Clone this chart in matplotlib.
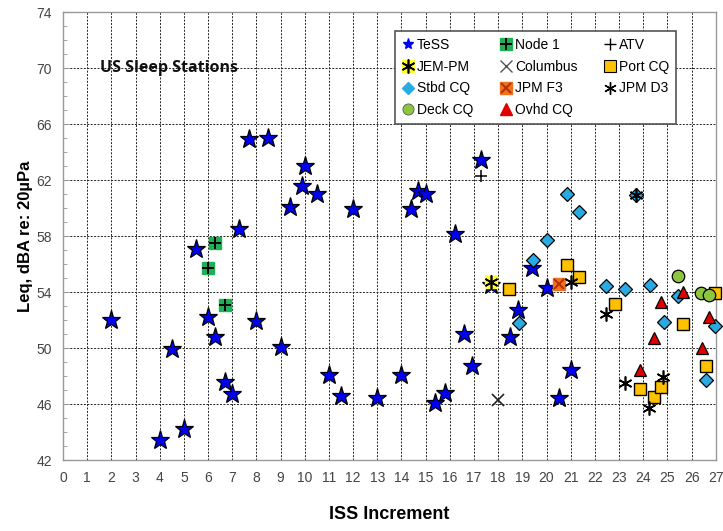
import matplotlib
matplotlib.use("Agg")
import matplotlib.pyplot as plt
from matplotlib.ticker import MultipleLocator

# ---------------- data ----------------
tess_x = [2.0, 4.0, 4.5, 5.0, 5.5, 6.0, 6.3, 6.7, 7.0, 7.3, 7.7, 8.0, 8.5, 9.0, 9.4, 9.9, 10.0,
          10.5, 11.0, 11.5, 12.0, 13.0, 14.0, 14.4, 14.7, 15.0, 15.4, 15.8, 16.2, 16.6, 16.9,
          17.3, 17.7, 18.5, 18.8, 19.4, 20.0, 20.5, 21.0]
tess_y = [52.0, 43.4, 49.9, 44.2, 57.1, 52.2, 50.8, 47.6, 46.7, 58.5, 64.9, 51.9, 65.0, 50.1, 60.1, 61.6, 63.0,
          61.0, 48.1, 46.6, 59.9, 46.4, 48.1, 59.9, 61.2, 61.0, 46.05, 46.8, 58.15, 51.0, 48.7,
          63.4, 54.5, 50.8, 52.7, 55.7, 54.3, 46.4, 48.4]

node1_x = [6.0, 6.3, 6.7]
node1_y = [55.7, 57.5, 53.1]

atv_x = [17.3]
atv_y = [62.3]

jempm_x = [17.7]
jempm_y = [54.7]

columbus_x = [18.0]
columbus_y = [46.3]

portcq_x = [18.45, 20.85, 21.35, 22.85, 23.85, 24.45, 24.75, 25.65, 26.6, 26.95]
portcq_y = [54.2, 55.9, 55.1, 53.15, 47.1, 46.5, 47.25, 51.7, 48.7, 53.9]

stbdcq_x = [18.85, 19.45, 20.0, 20.85, 21.35, 22.45, 23.25, 23.7, 24.3, 24.85, 25.45, 26.6, 26.95]
stbdcq_y = [51.8, 56.3, 57.7, 61.0, 59.75, 54.4, 54.25, 60.9, 54.5, 51.85, 53.7, 47.7, 51.55]

jpmf3_x = [20.5]
jpmf3_y = [54.55]

jpmd3_x = [21.0, 22.45, 23.25, 23.7, 24.25, 24.8]
jpmd3_y = [54.7, 52.45, 47.5, 60.9, 45.75, 47.9]

deckcq_x = [25.45, 26.4, 26.7]
deckcq_y = [55.15, 53.95, 53.8]

ovhdcq_x = [23.85, 24.45, 24.75, 25.65, 26.45, 26.7]
ovhdcq_y = [48.4, 50.7, 53.3, 54.0, 50.0, 52.25]

x_ticks = list(range(0, 28))
y_ticks = [42, 46, 50, 54, 58, 62, 66, 70, 74]

# ---------------- figure ----------------
fig = plt.figure(figsize=(7.23, 5.31), dpi=100)
ax = fig.add_axes([0.0871, 0.1337, 0.9029, 0.8437])

ax.set_xlim(0, 27)
ax.set_ylim(42, 74)
ax.set_xticks(x_ticks)
ax.set_yticks(y_ticks)
ax.yaxis.set_minor_locator(MultipleLocator(1))

ax.grid(True, which='major', color='#222222', linestyle=(0, (2, 1.5)), linewidth=0.7)
ax.set_axisbelow(True)

for s in ax.spines.values():
    s.set_color('#999999')
    s.set_linewidth(1.0)

tick_font = ['Liberation Sans Narrow', 'Liberation Sans', 'DejaVu Sans']
ax.tick_params(axis='both', which='major', labelsize=10, colors='#444444', length=0, pad=8)
ax.tick_params(axis='y', which='major', length=4, direction='in', color='#999999')
ax.tick_params(axis='y', which='minor', length=3, direction='in', color='#999999')
for lab in ax.get_xticklabels() + ax.get_yticklabels():
    lab.set_fontfamily(tick_font)
    lab.set_color('#444444')

# ---------------- series ----------------
ec = 'black'
common = dict(ls='none', clip_on=False)
h_tess, = ax.plot(tess_x, tess_y, marker='*', ms=14, mfc='#0000EE', mec=ec, mew=0.9, zorder=3, **common)

h_node_sq, = ax.plot(node1_x, node1_y, marker='s', ms=8, mfc='#1FAF55', mec='#1FAF55', zorder=4, **common)
h_node_pl, = ax.plot(node1_x, node1_y, marker='+', ms=8, mec='black', mew=1.4, zorder=5, **common)

h_atv, = ax.plot(atv_x, atv_y, marker='+', ms=8, mec='black', mew=1.1, zorder=5, **common)

h_portcq, = ax.plot(portcq_x, portcq_y, marker='s', ms=9, mfc='#FFC000', mec=ec, mew=1.0, zorder=4, **common)

h_stbd, = ax.plot(stbdcq_x, stbdcq_y, marker='D', ms=7, mfc='#2AAAE2', mec=ec, mew=0.9, zorder=4, **common)

h_jpmf3_sq, = ax.plot(jpmf3_x, jpmf3_y, marker='s', ms=8, mfc='#F07020', mec='#F07020', zorder=5, **common)
h_jpmf3_x, = ax.plot(jpmf3_x, jpmf3_y, marker='x', ms=7, mec='#B03000', mew=1.4, zorder=6, **common)

h_deck, = ax.plot(deckcq_x, deckcq_y, marker='o', ms=9, mfc='#8CC63F', mec=ec, mew=0.9, zorder=4, **common)

h_ovhd, = ax.plot(ovhdcq_x, ovhdcq_y, marker='^', ms=9, mfc='#E00000', mec=ec, mew=0.9, zorder=5, **common)

h_jpmd3, = ax.plot(jpmd3_x, jpmd3_y, marker=(6, 2, 0), ms=10, mec='black', mew=1.2, zorder=6, **common)

h_col, = ax.plot(columbus_x, columbus_y, marker='x', ms=8, mec='#222222', mew=1.2, zorder=5, **common)

h_jem_sq, = ax.plot(jempm_x, jempm_y, marker='s', ms=8, mfc='#FFFF33', mec='#FFFF33', zorder=6, **common)
h_jem_ast, = ax.plot(jempm_x, jempm_y, marker=(6, 2, 0), ms=10, mec='black', mew=1.2, zorder=7, **common)

# ---------------- legend ----------------
def lh(**kw):
    return plt.Line2D([], [], ls='none', **kw)

leg_tess = lh(marker='*', ms=8, mfc='#0000EE', mec='#0000EE')
leg_node = (lh(marker='s', ms=8, mfc='#1FAF55', mec='#1FAF55'), lh(marker='+', ms=8, mec='black', mew=1.4))
leg_atv = lh(marker='+', ms=9, mec='black', mew=1.0)
leg_jem = (lh(marker='s', ms=8, mfc='#FFFF33', mec='#FFFF33'), lh(marker=(6, 2, 0), ms=10, mec='black', mew=1.2))
leg_col = lh(marker='x', ms=8, mec='#555555', mew=1.0)
leg_port = lh(marker='s', ms=8, mfc='#FFC000', mec=ec, mew=0.8)
leg_stbd = lh(marker='D', ms=6, mfc='#2AAAE2', mec='#2AAAE2')
leg_f3 = (lh(marker='s', ms=8, mfc='#F07020', mec='#F07020'), lh(marker='x', ms=7, mec='#B03000', mew=1.4))
leg_d3 = lh(marker=(6, 2, 0), ms=9, mec='black', mew=1.0)
leg_deck = lh(marker='o', ms=8, mfc='#8CC63F', mec='#555555', mew=0.6)
leg_ovhd = lh(marker='^', ms=8, mfc='#E00000', mec='#E00000')

handles = [leg_tess, leg_jem, leg_stbd, leg_deck,
           leg_node, leg_col, leg_f3, leg_ovhd,
           leg_atv, leg_port, leg_d3]
labels = ['TeSS', 'JEM-PM', 'Stbd CQ', 'Deck CQ',
          'Node 1', 'Columbus', 'JPM F3', 'Ovhd CQ',
          'ATV', 'Port CQ', 'JPM D3']

leg = ax.legend(handles, labels, ncol=3, loc='upper left', bbox_to_anchor=(0.508, 0.957),
                frameon=True, fancybox=False, framealpha=1, edgecolor='#555555',
                prop={'family': ['Liberation Sans', 'DejaVu Sans'], 'size': 10},
                handlelength=0.9, handletextpad=0.2, columnspacing=1.9, labelspacing=0.55,
                borderpad=0.5, borderaxespad=0)
leg.get_frame().set_linewidth(1.2)
leg.set_zorder(10)

# ---------------- text ----------------
ax.text(0.057, 0.875, 'US Sleep Stations', transform=ax.transAxes, fontsize=11.5,
        fontweight='bold', family=['Open Sans', 'DejaVu Sans'], color='#111111', va='center', ha='left')

ax.set_ylabel('Leq, dBA re: 20µPa', fontsize=12, fontweight='bold',
              family=['Liberation Sans', 'DejaVu Sans'], labelpad=2)
ax.set_xlabel('ISS Increment', fontsize=13, fontweight='bold',
              family=['Liberation Sans Narrow', 'Liberation Sans', 'DejaVu Sans'], labelpad=15)

fig.savefig('out.png', dpi=100)
